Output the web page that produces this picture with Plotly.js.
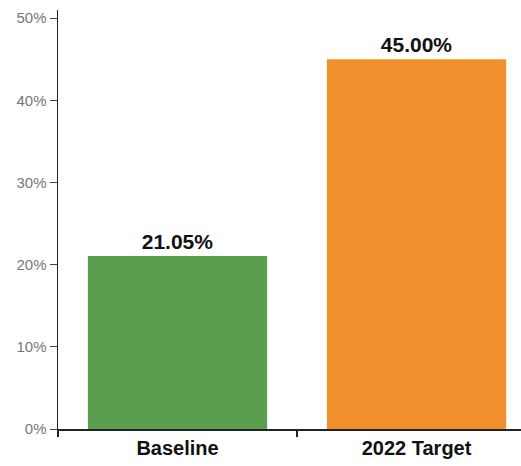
<!DOCTYPE html>
<html>
<head>
<meta charset="utf-8">
<script src="https://cdn.plot.ly/plotly-3.0.1.min.js"></script>
<style>html,body{margin:0;padding:0;background:#fff;}#chart{width:521px;height:466px;}</style>
</head>
<body>
<div id="chart"></div>
<script>
const categories = ["Baseline", "2022 Target"];
const values = [21.05, 45.00];
const barColors = ["#5a9e4e", "#f2902e"];
const yTicks = [0, 10, 20, 30, 40, 50];

const trace = {
  type: "bar",
  x: categories,
  y: values,
  width: 0.75,
  marker: {color: barColors},
  text: values.map(v => v.toFixed(2) + "%"),
  textposition: "outside",
  cliponaxis: false,
  textfont: {family: "Liberation Sans, Arial, sans-serif", size: 21, color: "#111", weight: "bold"},
  hoverinfo: "none"
};

const layout = {
  width: 521,
  height: 466,
  margin: {l: 58, r: 0, t: 10, b: 37},
  paper_bgcolor: "#fff",
  plot_bgcolor: "#fff",
  showlegend: false,
  font: {family: "Liberation Sans, Arial, sans-serif"},
  xaxis: {
    type: "category",
    range: [-0.5, 1.437],
    showline: true,
    linecolor: "#222",
    linewidth: 1.5,
    ticks: "outside",
    tickson: "boundaries",
    ticklen: 6,
    tickcolor: "#222",
    tickwidth: 1.5,
    showgrid: false,
    tickfont: {size: 20, color: "#111", weight: "bold"}
  },
  yaxis: {
    range: [0, 51],
    tickvals: yTicks,
    ticktext: yTicks.map(t => t + "%"),
    showline: true,
    linecolor: "#222",
    linewidth: 1.5,
    ticks: "outside",
    ticklen: 7,
    tickcolor: "#444",
    showgrid: false,
    zeroline: false,
    tickfont: {size: 15, color: "#777"}
  }
};

Plotly.newPlot("chart", [trace], layout, {displayModeBar: false, staticPlot: true});
</script>
</body>
</html>
